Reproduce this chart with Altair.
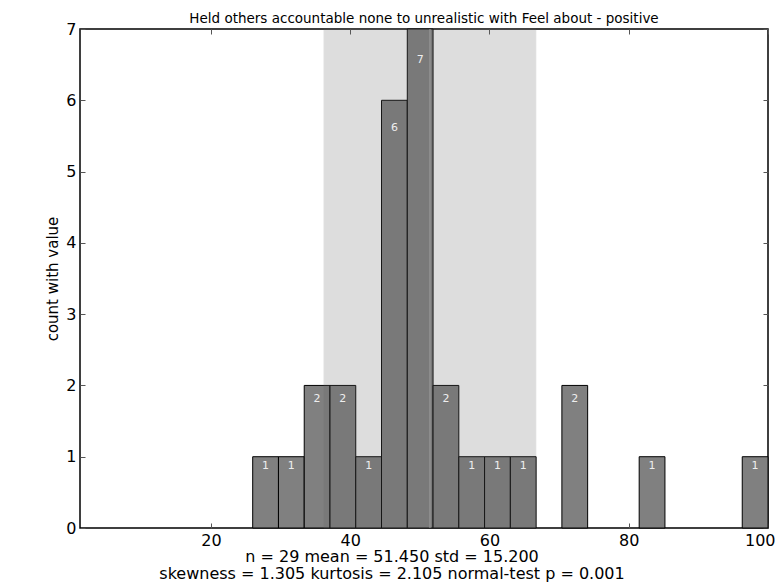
import altair as alt
import pandas as pd
import numpy as np

# ---------------- data ----------------
chart_title = "Held others accountable none to unrealistic with Feel about - positive"
bin_edges = [26.0, 29.7, 33.4, 37.1, 40.8, 44.5, 48.2, 51.9, 55.6, 59.3, 63.0,
             66.7, 70.4, 74.1, 77.8, 81.5, 85.2, 88.9, 92.6, 96.3, 100.0]
counts = [1, 1, 2, 2, 1, 6, 7, 2, 1, 1, 1, 0, 2, 0, 0, 1, 0, 0, 0, 1]
n_obs = 29
mean_val = 51.450
std_val = 15.200
skewness = 1.305
kurtosis = 2.105
normal_p = 0.001
x_ticks = [20, 40, 60, 80, 100]
y_ticks = [0, 1, 2, 3, 4, 5, 6, 7]
x_domain = [1.2, 100]
y_domain = [0, 7]

stats_line1 = f"n = {n_obs} mean = {mean_val:.3f} std = {std_val:.3f}"
stats_line2 = f"skewness = {skewness:.3f} kurtosis = {kurtosis:.3f} normal-test p = {normal_p:.3f}"

# ---------------- tables ----------------
bars_df = pd.DataFrame({
    "lo": bin_edges[:-1],
    "hi": bin_edges[1:],
    "count": counts,
})
bars_df = bars_df[bars_df["count"] > 0].reset_index(drop=True)
bars_df["mid"] = (bars_df["lo"] + bars_df["hi"]) / 2
bars_df["label_y"] = bars_df["count"] * 0.95
bars_df["label"] = bars_df["count"].astype(str)

span_df = pd.DataFrame({"lo": [mean_val - std_val], "hi": [mean_val + std_val], "m": [mean_val]})

W, H = 688, 499
FONT = "DejaVu Sans"
xs = alt.Scale(domain=x_domain, nice=False, zero=False)
ys = alt.Scale(domain=y_domain, nice=False, zero=True)
TICK_COLOR = "#555555"

bars = alt.Chart(bars_df).mark_rect(fill="#808080", stroke="black", strokeWidth=1).encode(
    x=alt.X("lo:Q", scale=xs, axis=alt.Axis(
        orient="bottom", values=x_ticks, offset=-5, tickSize=5, domain=False, grid=False,
        labelPadding=4, labelFontSize=16, labelColor="black", tickColor=TICK_COLOR,
        labelFlush=True, labelFlushOffset=7, title=None, labelFont=FONT)),
    x2="hi:Q",
    y=alt.Y("count:Q", scale=ys, axis=alt.Axis(
        orient="left", values=y_ticks, offset=-5, tickSize=5, domain=False, grid=False,
        labelPadding=4, labelFontSize=16, labelColor="black", tickColor=TICK_COLOR,
        labelFlush=False, title="count with value", titleFontSize=15,
        titleFontWeight="normal", titleColor="black", titlePadding=5,
        titleFont=FONT, labelFont=FONT)),
    y2=alt.datum(0),
)

shade = alt.Chart(span_df).mark_rect(
    color="#646464", opacity=0.21, stroke="#646464", strokeWidth=1
).encode(
    x=alt.X("lo:Q", scale=xs, axis=None),
    x2="hi:Q",
)

mean_rule = alt.Chart(span_df).mark_rule(color="#a0a0a0", opacity=0.5, strokeWidth=2).encode(
    x=alt.X("m:Q", scale=xs, axis=None),
)

labels = alt.Chart(bars_df).mark_text(
    baseline="top", align="center", fontSize=11, color="#eeeeee", font=FONT
).encode(
    x=alt.X("mid:Q", scale=xs, axis=alt.Axis(
        orient="top", values=x_ticks, offset=-5, tickSize=5, domain=False, grid=False,
        labels=False, tickColor=TICK_COLOR, title=None)),
    y=alt.Y("label_y:Q", scale=ys, axis=alt.Axis(
        orient="right", values=y_ticks, offset=-5, tickSize=5, domain=False, grid=False,
        labels=False, tickColor=TICK_COLOR, title=None)),
    text="label:N",
)

title_txt = alt.Chart(span_df).mark_text(
    text=chart_title, fontSize=13.5, font=FONT, color="black", baseline="alphabetic", align="center"
).encode(x=alt.value(W / 2), y=alt.value(-6))
txt1 = alt.Chart(span_df).mark_text(
    text=stats_line1, fontSize=16, font=FONT, color="black", baseline="middle", align="center"
).encode(x=alt.value(312), y=alt.value(528))
txt2 = alt.Chart(span_df).mark_text(
    text=stats_line2, fontSize=16, font=FONT, color="black", baseline="middle", align="center"
).encode(x=alt.value(312), y=alt.value(545))

chart = alt.layer(bars, shade, mean_rule, labels, title_txt, txt1, txt2).resolve_axis(
    x="independent", y="independent"
).properties(
    width=W, height=H,
    autosize=alt.AutoSizeParams(type="none"),
    padding={"left": 72, "top": 21, "right": 8, "bottom": 56},
).configure(font=FONT).configure_view(stroke="black", strokeWidth=1.5)

chart.save("out.html", embed_options={"renderer": "svg", "actions": False})
